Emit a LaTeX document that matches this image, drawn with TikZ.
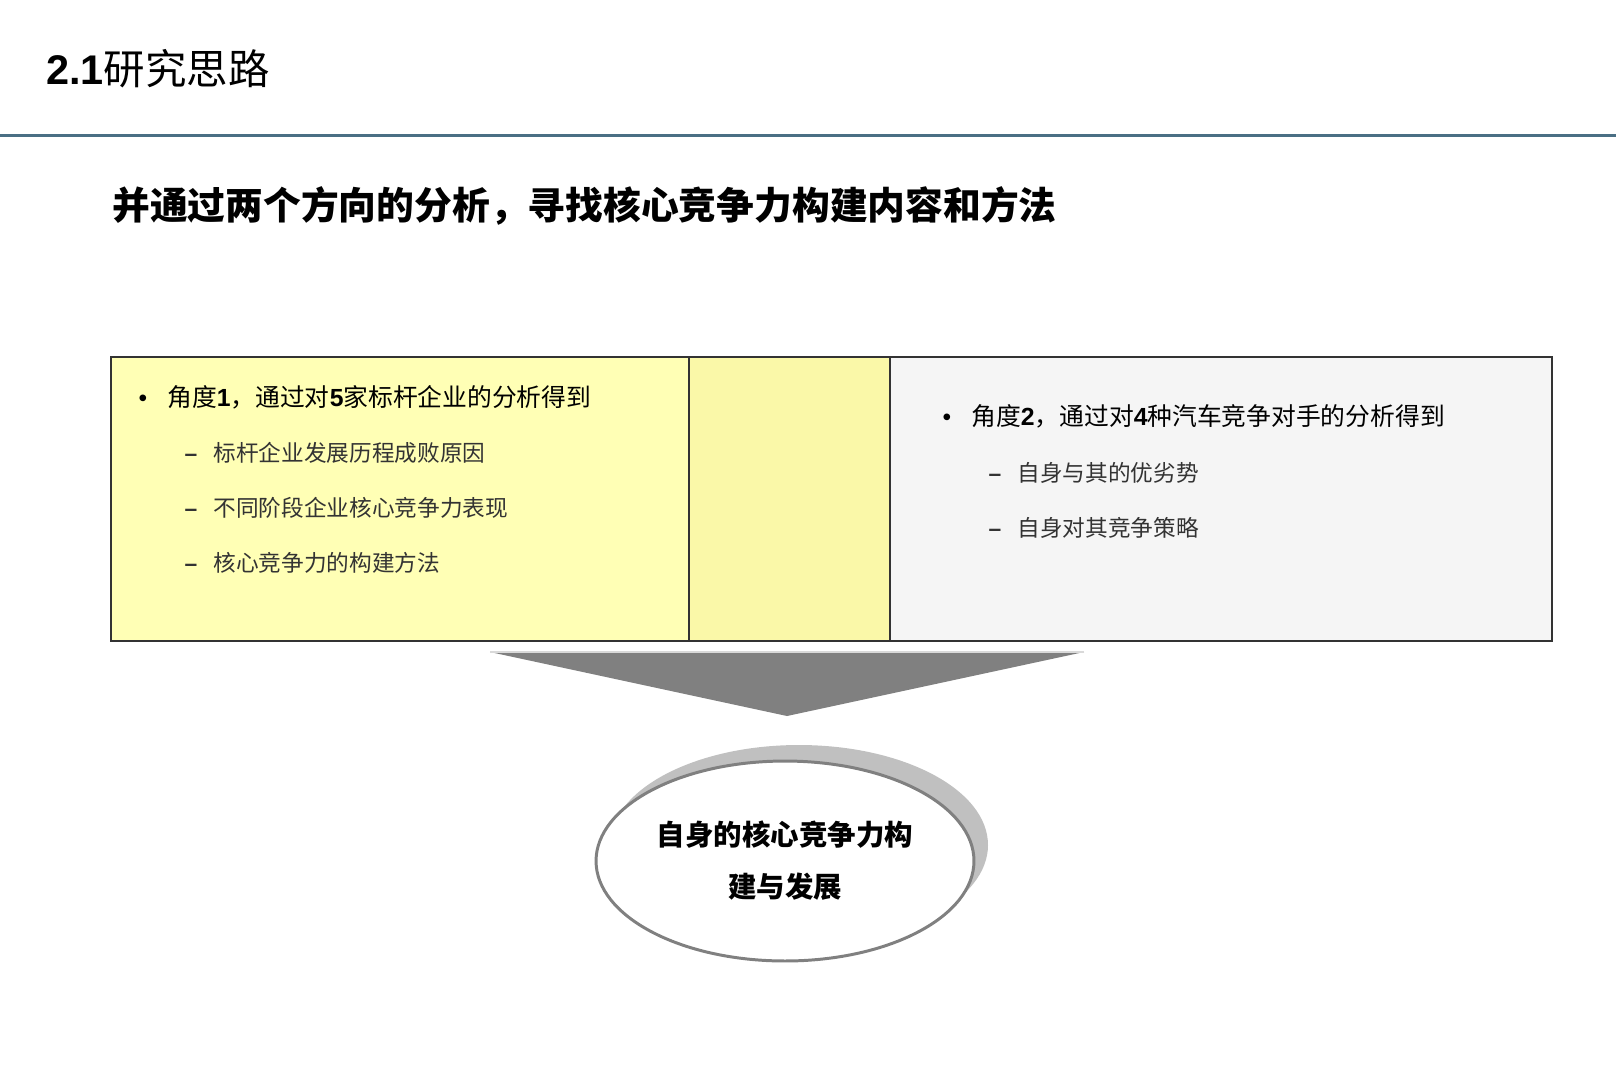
\documentclass[tikz,border=0pt]{standalone}
\usepackage{fontspec}
\setmainfont{Noto Sans CJK SC}
\newfontfamily\latinfont{Liberation Sans}
\usetikzlibrary{shapes.geometric}

\definecolor{rulecol}{HTML}{4A6F84}
\definecolor{leftyel}{HTML}{FFFFB5}
\definecolor{midyel}{HTML}{FAF8A8}
\definecolor{rightgray}{HTML}{F5F5F5}
\definecolor{arrowgray}{HTML}{808080}
\definecolor{shadowgray}{HTML}{C0C0C0}
\definecolor{itemtext}{HTML}{333333}

\tikzset{
  panel/.style={draw=black!80, line width=1.1pt},
  dot/.style={anchor=base, font=\fontsize{14}{16}\selectfont\latinfont, inner sep=0pt},
  head/.style={anchor=west, inner sep=0pt, font=\fontsize{14.1}{17}\selectfont, text=black},
  dashmark/.style={anchor=base, font=\fontsize{13}{15}\selectfont\latinfont\bfseries, inner sep=0pt, text=itemtext},
  item/.style={anchor=west, inner sep=0pt, font=\fontsize{12.9}{15}\selectfont, text=itemtext},
  goal/.style={ellipse, draw=arrowgray, line width=1.7pt, fill=white,
    minimum width=7.56cm, minimum height=4cm, inner sep=0pt, align=center,
    font=\fontsize{16.2}{29.5}\selectfont\bfseries},
}

\begin{document}
\begin{tikzpicture}[x=0.02cm, y=-0.02cm]
    \useasboundingbox (0,0) rectangle (1616,1080);

    % Title and rule
    \node[anchor=west, inner sep=0pt, font=\fontsize{23.6}{28}\selectfont] (title) at (46,69)
      {{\latinfont\bfseries 2.1}研究思路};
    \draw[rulecol, line width=1.7pt] (0,135) -- (1616,135);

    % Subtitle
    \node[anchor=west, inner sep=0pt, font=\fontsize{21.5}{26}\selectfont\bfseries] (subtitle) at (112,206)
      {并通过两个方向的分析，寻找核心竞争力构建内容和方法};

    % Panels
    \fill[leftyel] (111,357) rectangle (689,641);
    \fill[midyel] (689,357) rectangle (890,641);
    \fill[rightgray] (890,357) rectangle (1552,641);
    \draw[panel] (111,357) rectangle (1552,641);
    \draw[panel] (689,357) -- (689,641);
    \draw[panel] (890,357) -- (890,641);

    % Angle 1
    \node[head] (h1) at (167,397) {角度{\latinfont\bfseries 1}，通过对{\latinfont\bfseries 5}家标杆企业的分析得到};
    \node[dot] (b1) at ([xshift=-0.48cm]h1.base west) {•};
    \foreach \t [count=\i] in {标杆企业发展历程成败原因, 不同阶段企业核心竞争力表现, 核心竞争力的构建方法}{
    \node[item] (sa\i) at (213,{398+55*\i}) {\t};
    \node[dashmark] (da\i) at ([xshift=-0.44cm]sa\i.base west) {–};
    }

    % Angle 2
    \node[head] (h2) at (971,416) {角度{\latinfont\bfseries 2}，通过对{\latinfont\bfseries 4}种汽车竞争对手的分析得到};
    \node[dot] (b2) at ([xshift=-0.48cm]h2.base west) {•};
    \foreach \t [count=\i] in {自身与其的优劣势, 自身对其竞争策略}{
    \node[item] (sb\i) at (1017,{418+55*\i}) {\t};
    \node[dashmark] (db\i) at ([xshift=-0.44cm]sb\i.base west) {–};
    }

    % Arrow down
    \coordinate (al) at (490,652);
    \coordinate (ar) at (1084,652);
    \coordinate (tip) at (787,716);
    \fill[arrowgray] (al) -- (ar) -- (tip) -- cycle;
    \draw[gray!30, line width=0.8pt] (al) -- (ar);

    % Goal with shadow
    \fill[shadowgray] (799,845) ellipse [x radius=189, y radius=100];
    \node[goal] (goal) at (785,861) {自身的核心竞争力构\\建与发展};
\end{tikzpicture}
\end{document}
